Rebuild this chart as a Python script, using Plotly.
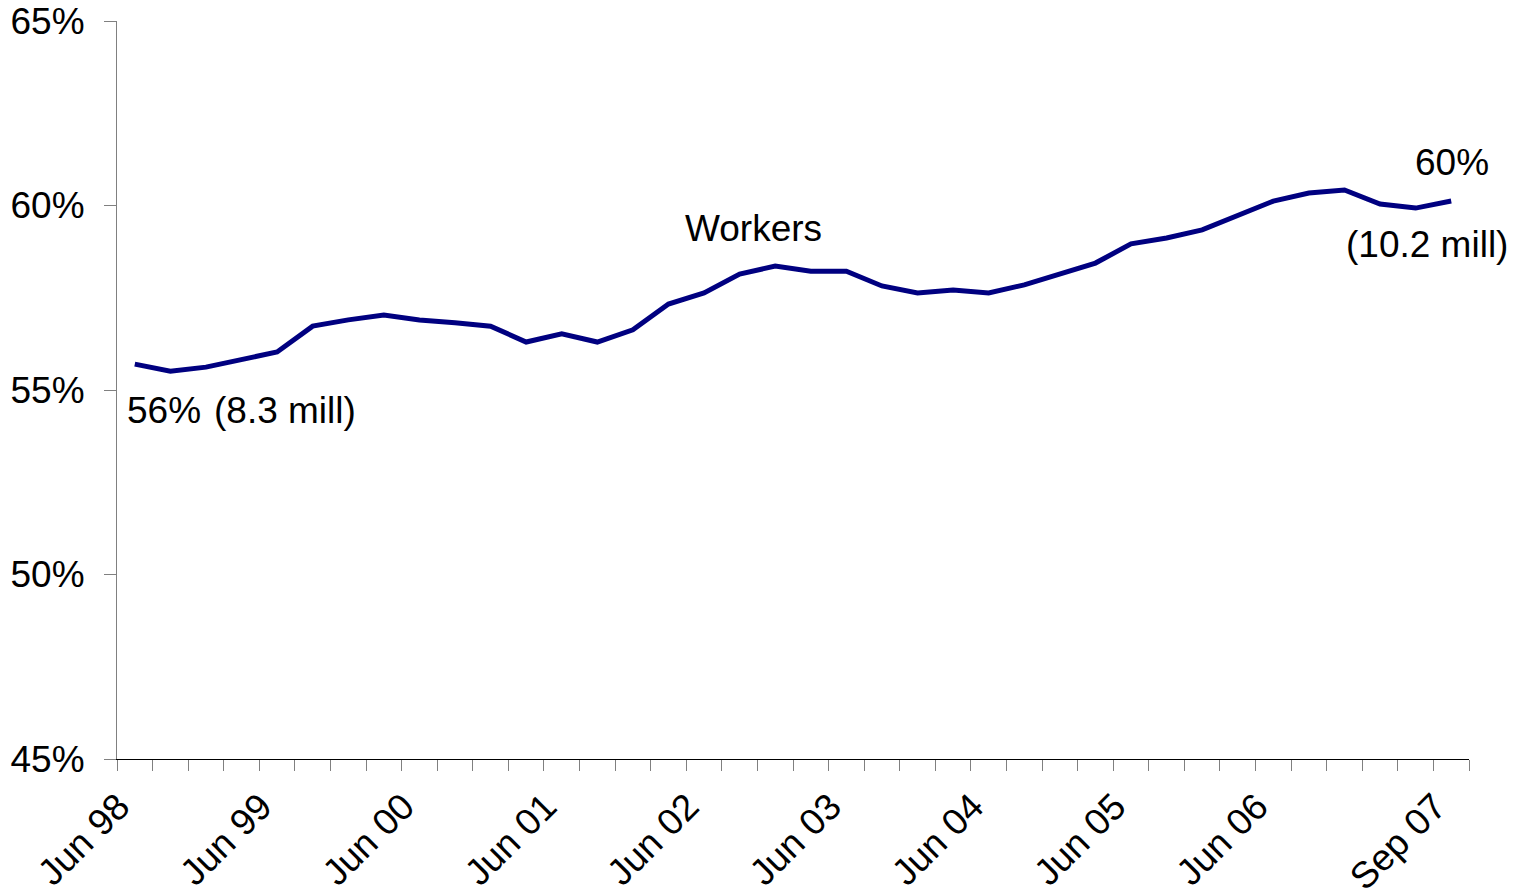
import plotly.graph_objects as go

quarters = [
    "Jun 98", "Sep 98", "Dec 98", "Mar 99", "Jun 99", "Sep 99", "Dec 99", "Mar 00",
    "Jun 00", "Sep 00", "Dec 00", "Mar 01", "Jun 01", "Sep 01", "Dec 01", "Mar 02",
    "Jun 02", "Sep 02", "Dec 02", "Mar 03", "Jun 03", "Sep 03", "Dec 03", "Mar 04",
    "Jun 04", "Sep 04", "Dec 04", "Mar 05", "Jun 05", "Sep 05", "Dec 05", "Mar 06",
    "Jun 06", "Sep 06", "Dec 06", "Mar 07", "Jun 07", "Sep 07",
]
workers_pct = [
    55.70, 55.51, 55.62, 55.81, 56.03, 56.73, 56.90, 57.03,
    56.90, 56.82, 56.73, 56.30, 56.52, 56.30, 56.63, 57.33,
    57.63, 58.14, 58.36, 58.22, 58.22, 57.82, 57.63, 57.71,
    57.63, 57.85, 58.14, 58.44, 58.96, 59.12, 59.34, 59.74,
    60.12, 60.34, 60.42, 60.04, 59.93, 60.12,
]
tick_labels = ["Jun 98", "Jun 99", "Jun 00", "Jun 01", "Jun 02", "Jun 03",
               "Jun 04", "Jun 05", "Jun 06", "Sep 07"]
y_ticks = [45, 50, 55, 60, 65]

x_idx = list(range(len(quarters)))
# labels sit slightly left of their category centre, as in the original
tick_pos = [quarters.index(t) - 0.45 for t in tick_labels]

FONT = "Liberation Sans, Arial, sans-serif"
FS = 37

fig = go.Figure()
fig.add_trace(go.Scatter(
    x=x_idx, y=workers_pct, mode="lines",
    line=dict(color="#000080", width=5),
    hovertext=quarters, showlegend=False,
))

fig.update_layout(
    width=1517, height=887,
    margin=dict(l=109, r=56, t=13, b=136),
    plot_bgcolor="white", paper_bgcolor="white",
    font=dict(family=FONT, size=FS, color="black"),
    xaxis=dict(
        range=[-0.5, len(quarters) - 0.5], automargin=False,
        tickmode="array", tickvals=tick_pos, ticktext=tick_labels,
        tickangle=-45, ticks="", showgrid=False, zeroline=False,
        showline=True, linecolor="black", linewidth=1,
        tickfont=dict(size=FS, family=FONT, color="black"),
        ticklabelstandoff=10, ticklabeloverflow="allow",
        minor=dict(tickmode="linear", tick0=-0.5, dtick=1, ticks="outside",
                   ticklen=11, tickcolor="#808080", tickwidth=1, showgrid=False),
    ),
    yaxis=dict(
        range=[45, 65], automargin=False, tickmode="array", tickvals=y_ticks,
        ticktext=[f"{v}%" for v in y_ticks],
        ticks="outside", ticklen=12, tickcolor="#808080", tickwidth=1,
        showgrid=False, zeroline=False,
        showline=True, linecolor="#808080", linewidth=1,
        tickfont=dict(size=FS, family=FONT, color="black"),
        ticklabelstandoff=12, ticklabeloverflow="allow",
    ),
    annotations=[
        dict(x=0, y=workers_pct[0], xref="x", yref="y", text="56%", showarrow=False,
             xanchor="left", yanchor="middle", xshift=-10, yshift=-46,
             font=dict(size=FS, family=FONT)),
        dict(x=2, y=workers_pct[0], xref="x", yref="y", text="(8.3 mill)", showarrow=False,
             xanchor="left", yanchor="middle", xshift=6, yshift=-46,
             font=dict(size=FS, family=FONT)),
        dict(x=17, y=workers_pct[17], xref="x", yref="y", text="Workers", showarrow=False,
             xanchor="center", yanchor="middle", xshift=14, yshift=46,
             font=dict(size=FS, family=FONT)),
        dict(x=37, y=workers_pct[37], xref="x", yref="y", text="60%", showarrow=False,
             xanchor="center", yanchor="middle", xshift=1, yshift=39,
             font=dict(size=FS, family=FONT)),
        dict(x=36, y=workers_pct[36], xref="x", yref="y", text="(10.2 mill)", showarrow=False,
             xanchor="center", yanchor="middle", xshift=11, yshift=-36,
             font=dict(size=FS, family=FONT)),
    ],
)

fig.write_html("out.html")
